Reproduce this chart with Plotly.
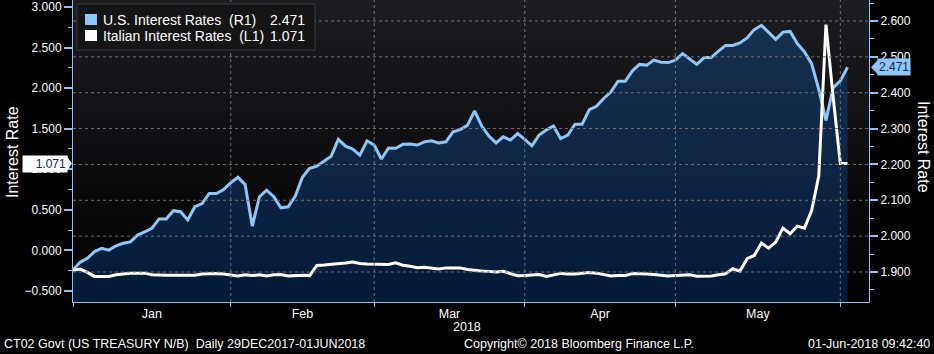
import plotly.graph_objects as go
import pandas as pd

# ---------------- data ----------------
HOLIDAYS = ["2018-01-01", "2018-03-30"]
dates = [d for d in pd.bdate_range("2017-12-29", "2018-06-01")
         if d.strftime("%Y-%m-%d") not in HOLIDAYS]

us_rates = [
    1.906, 1.927, 1.938, 1.957, 1.966, 1.961, 1.973, 1.980, 1.984, 2.003,
    2.012, 2.022, 2.048, 2.048, 2.071, 2.068, 2.045, 2.082, 2.091, 2.119,
    2.119, 2.130, 2.149, 2.164, 2.144, 2.028, 2.110, 2.128,
    2.110, 2.079, 2.082, 2.112, 2.165, 2.189, 2.195, 2.209, 2.223, 2.270,
    2.251, 2.243, 2.226, 2.266, 2.254, 2.215, 2.246, 2.245, 2.256, 2.257,
    2.254, 2.263, 2.266, 2.260, 2.263, 2.291, 2.297,
    2.309, 2.349, 2.307, 2.279, 2.260, 2.277, 2.268, 2.286, 2.270, 2.252,
    2.282, 2.296, 2.307, 2.272, 2.282, 2.312, 2.312, 2.353, 2.362, 2.384,
    2.402, 2.432, 2.432, 2.461, 2.479, 2.477, 2.491,
    2.485, 2.484, 2.491, 2.509, 2.493, 2.479, 2.498, 2.498, 2.516, 2.532,
    2.532, 2.539, 2.553, 2.576, 2.588, 2.568, 2.549, 2.569, 2.571, 2.537,
    2.514, 2.481, 2.409, 2.323, 2.414, 2.433, 2.471,
]

it_rates = [
    -0.246, -0.230, -0.270, -0.320, -0.320, -0.320, -0.300, -0.290, -0.280, -0.280,
    -0.280, -0.300, -0.305, -0.305, -0.305, -0.305, -0.305, -0.305,
    -0.290, -0.285, -0.285, -0.290, -0.300, -0.315, -0.300, -0.310, -0.300, -0.315,
    -0.300, -0.296, -0.316, -0.310, -0.305, -0.310,
    -0.185, -0.180, -0.172, -0.170, -0.155, -0.144, -0.162, -0.168, -0.172, -0.174,
    -0.172, -0.152, -0.182, -0.195, -0.212, -0.207, -0.215, -0.228, -0.215, -0.215,
    -0.215,
    -0.235, -0.248, -0.252, -0.258, -0.267, -0.258, -0.285, -0.312, -0.310, -0.305,
    -0.298, -0.320, -0.300, -0.283, -0.290, -0.290, -0.280, -0.272, -0.280, -0.296,
    -0.315, -0.310, -0.310, -0.285, -0.292, -0.290, -0.296,
    -0.305, -0.316, -0.310, -0.305, -0.300, -0.318, -0.315, -0.315, -0.300, -0.287,
    -0.226, -0.255, -0.102, -0.062, 0.090, 0.028, 0.102, 0.275, 0.205, 0.300,
    0.275, 0.490, 0.920, 2.783, 1.888, 1.071, 1.071,
]

month_names = ["Jan", "Feb", "Mar", "Apr", "May"]
year_label = "2018"
us_name = "U.S. Interest Rates\u00a0\u00a0(R1)"
it_name = "Italian Interest Rates\u00a0\u00a0(L1)"
axis_title = "Interest Rate"
footer_left = "CT02 Govt (US TREASURY N/B)\u00a0\u00a0Daily 29DEC2017-01JUN2018"
footer_mid = "Copyright\u00a9 2018 Bloomberg Finance L.P."
footer_right = "01-Jun-2018 09:42:40"

RIGHT_TICKS = [1.9, 2.0, 2.1, 2.2, 2.3, 2.4, 2.5, 2.6]

# ---------------- derived positions ----------------
x = list(range(len(dates)))
periods = [d.to_period("M") for d in dates]
month_last = []
for p in sorted(set(periods)):
    month_last.append(max(i for i, q in enumerate(periods) if q == p))
bound_ticks = month_last[:-1]                  # last trading day of Dec..May
month_mid = [(bound_ticks[k] + bound_ticks[k + 1]) / 2 for k in range(len(month_names))]

X_RANGE = [0, 111]
Y_R = [1.8163, 2.6586]   # right axis (US)
Y_L = [-0.6355, 3.086]   # left axis (Italy)

AXIS = "#8cc3f2"
BLUE = "#8dc6f7"
GRID = "#6e6e6e"
TXT = "#ffffff"
FONT = "Liberation Sans, Arial, sans-serif"

W, H = 934, 354
ML, MR, MT, MB = 73, 65, 0, 52
PW, PH = W - ML - MR, H - MT - MB


def px(xp):
    return (xp - ML) / PW


def py(yp):
    return 1 - (yp - MT) / PH


fig = go.Figure()

# background gradient of the plotting area
fig.add_trace(go.Scatter(
    x=[X_RANGE[0], X_RANGE[1], X_RANGE[1], X_RANGE[0]],
    y=[Y_R[0], Y_R[0], Y_R[1], Y_R[1]],
    fill="toself", mode="lines", line=dict(width=0),
    fillgradient=dict(type="vertical", start=Y_R[0], stop=Y_R[1],
                      colorscale=[[0, "#000000"], [1, "#1d1d20"]]),
    hoverinfo="skip", showlegend=False, yaxis="y"))

# US series (right axis) with gradient area
fig.add_trace(go.Scatter(
    x=x, y=us_rates, name=us_name, mode="lines",
    line=dict(color=BLUE, width=3),
    fill="tozeroy",
    fillgradient=dict(type="vertical", start=Y_R[0], stop=Y_R[1],
                      colorscale=[[0, "#031a39"], [1, "#193350"]]),
    showlegend=False, yaxis="y"))

# Italian series (left axis)
fig.add_trace(go.Scatter(
    x=x, y=it_rates, name=it_name, mode="lines",
    line=dict(color="#ffffff", width=3),
    showlegend=False, yaxis="y2"))

shapes = []
for v in RIGHT_TICKS:
    shapes.append(dict(type="line", xref="paper", yref="y", x0=0, x1=1, y0=v, y1=v,
                       line=dict(color=GRID, width=1, dash="3px,3px"), layer="above"))
for b in bound_ticks[1:]:
    shapes.append(dict(type="line", xref="x", yref="paper", x0=b, x1=b, y0=0, y1=1,
                       line=dict(color=GRID, width=1, dash="3px,3px"), layer="above"))

# legend box
shapes.append(dict(type="rect", xref="paper", yref="paper",
                   x0=px(77), x1=px(315), y0=py(50), y1=py(4),
                   fillcolor="#151515", line=dict(color="#3a3a3a", width=1), layer="above"))
shapes.append(dict(type="rect", xref="paper", yref="paper",
                   x0=px(85), x1=px(97), y0=py(25), y1=py(14),
                   fillcolor=BLUE, line=dict(width=0), layer="above"))
shapes.append(dict(type="rect", xref="paper", yref="paper",
                   x0=px(85), x1=px(97), y0=py(41), y1=py(30),
                   fillcolor="#ffffff", line=dict(width=0), layer="above"))

# last-value pointers
shapes.append(dict(type="path", xref="paper", yref="y2",
                   xsizemode="pixel", ysizemode="pixel",
                   xanchor=0, yanchor=it_rates[-1],
                   path="M -6,-7 L -1,0 L -6,7 Z",
                   fillcolor="#ffffff", line=dict(width=0), layer="above"))
shapes.append(dict(type="path", xref="paper", yref="y",
                   xsizemode="pixel", ysizemode="pixel",
                   xanchor=1, yanchor=us_rates[-1],
                   path="M 2,0 L 9,7.5 L 9,-7.5 Z",
                   fillcolor=BLUE, line=dict(width=0), layer="above"))

ann = []
ann.append(dict(text=us_name, xref="paper", yref="paper", x=px(101), y=py(20),
                xanchor="left", yanchor="middle", showarrow=False,
                font=dict(size=14, color=TXT, family=FONT)))
ann.append(dict(text=f"{us_rates[-1]:.3f}", xref="paper", yref="paper", x=px(307), y=py(20),
                xanchor="right", yanchor="middle", showarrow=False,
                font=dict(size=14, color=TXT, family=FONT)))
ann.append(dict(text=it_name, xref="paper", yref="paper", x=px(101), y=py(36),
                xanchor="left", yanchor="middle", showarrow=False,
                font=dict(size=14, color=TXT, family=FONT)))
ann.append(dict(text=f"{it_rates[-1]:.3f}", xref="paper", yref="paper", x=px(307), y=py(36),
                xanchor="right", yanchor="middle", showarrow=False,
                font=dict(size=14, color=TXT, family=FONT)))

# last value labels (they cover the neighbouring tick labels, as in the original)
ann.append(dict(text=f"{it_rates[-1]:.3f}", xref="paper", yref="y2", x=px(68), y=it_rates[-1],
                xanchor="right", yanchor="middle", showarrow=False,
                bgcolor="#ffffff", borderpad=1, width=42, align="right",
                font=dict(size=12, color="#10284a", family=FONT)))
ann.append(dict(text=f"{us_rates[-1]:.3f}", xref="paper", yref="y", x=px(877), y=us_rates[-1],
                xanchor="left", yanchor="middle", showarrow=False,
                bgcolor=BLUE, borderpad=1,
                font=dict(size=12, color="#10284a", family=FONT)))

# axis titles
ann.append(dict(text=axis_title, xref="paper", yref="paper", x=px(12), y=py(152),
                xanchor="center", yanchor="middle", textangle=-90, showarrow=False,
                font=dict(size=16, color=TXT, family=FONT)))
ann.append(dict(text=axis_title, xref="paper", yref="paper", x=px(923), y=py(147),
                xanchor="center", yanchor="middle", textangle=90, showarrow=False,
                font=dict(size=16, color=TXT, family=FONT)))

# year label and footer
ann.append(dict(text=year_label, xref="x", yref="paper", x=month_mid[2] + 2.5, y=py(327),
                xanchor="center", yanchor="middle", showarrow=False,
                font=dict(size=12.5, color=TXT, family=FONT)))
ann.append(dict(text=footer_left, xref="paper", yref="paper", x=px(2), y=py(344),
                xanchor="left", yanchor="middle", showarrow=False,
                font=dict(size=12.5, color=TXT, family=FONT)))
ann.append(dict(text=footer_mid, xref="paper", yref="paper", x=px(462), y=py(344),
                xanchor="left", yanchor="middle", showarrow=False,
                font=dict(size=12.5, color=TXT, family=FONT)))
ann.append(dict(text=footer_right, xref="paper", yref="paper", x=px(932), y=py(344),
                xanchor="right", yanchor="middle", showarrow=False,
                font=dict(size=12.5, color=TXT, family=FONT)))

tickfont = dict(size=12, color=TXT, family=FONT)

fig.update_layout(
    width=W, height=H, autosize=False,
    margin=dict(l=ML, r=MR, t=MT, b=MB, pad=0),
    paper_bgcolor="#000000", plot_bgcolor="#000000",
    showlegend=False,
    font=dict(family=FONT, color=TXT),
    shapes=shapes, annotations=ann,
    xaxis=dict(
        range=X_RANGE, showgrid=False, zeroline=False,
        tickmode="array", tickvals=month_mid, ticktext=month_names,
        ticks="", tickfont=dict(size=12.5, color=TXT, family=FONT),
        showline=True, linecolor=AXIS, linewidth=1,
        minor=dict(tickmode="array", tickvals=bound_ticks, ticks="outside",
                   ticklen=4, tickwidth=1, tickcolor=AXIS, showgrid=False),
        fixedrange=True),
    yaxis=dict(
        range=Y_R, side="right", showgrid=False, zeroline=False,
        tickmode="linear", tick0=RIGHT_TICKS[0], dtick=0.1, tickformat=".3f",
        ticks="outside", ticklen=8, tickwidth=2, tickcolor=AXIS,
        minor=dict(dtick=0.05, ticks="outside", ticklen=4, tickwidth=1,
                   tickcolor=AXIS, showgrid=False),
        showline=True, linecolor=AXIS, linewidth=1,
        tickfont=tickfont, fixedrange=True),
    yaxis2=dict(
        range=Y_L, side="left", overlaying="y", showgrid=False, zeroline=False,
        tickmode="linear", tick0=-0.5, dtick=0.5, tickformat=".3f",
        ticks="outside", ticklen=8, tickwidth=2, tickcolor=AXIS,
        minor=dict(dtick=0.25, ticks="outside", ticklen=4, tickwidth=1,
                   tickcolor=AXIS, showgrid=False),
        showline=True, linecolor=AXIS, linewidth=1,
        tickfont=tickfont, fixedrange=True),
)

fig.write_html("out.html")
